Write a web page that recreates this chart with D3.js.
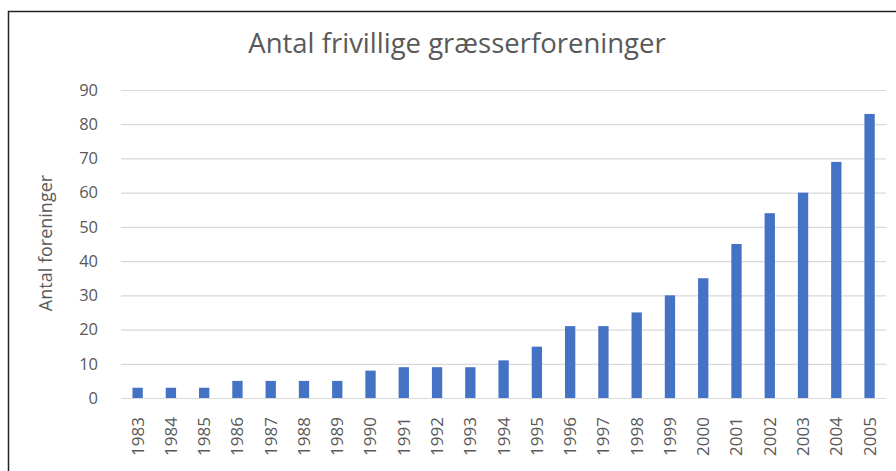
<!DOCTYPE html>
<html>
<head>
<meta charset="utf-8">
<script src="https://cdn.jsdelivr.net/npm/d3@7"></script>
<style>
  body { margin: 0; background: #fff; }
  text { font-family: "Open Sans", sans-serif; fill: #595959; }
</style>
</head>
<body>
<div id="chart"></div>
<script>
// data
let years = ["1983", "1984", "1985", "1986", "1987", "1988", "1989", "1990", "1991", "1992",
  "1993", "1994", "1995", "1996", "1997", "1998", "1999", "2000", "2001", "2002", "2003", "2004", "2005"];
let counts = [3, 3, 3, 5, 5, 5, 5, 8, 9, 9, 9, 11, 15, 21, 21, 25, 30, 35, 45, 54, 60, 69, 83];
let yTicks = [0, 10, 20, 30, 40, 50, 60, 70, 80, 90];

let chartTitle = "Antal frivillige græsserforeninger";
let yLabel = "Antal foreninger";

let svgWidth = 896;
let svgHeight = 471;

let margin = { top: 90, right: 10, bottom: 73, left: 121 };
let width = svgWidth - margin.left - margin.right;
let height = svgHeight - margin.top - margin.bottom;

let svg = d3.select("#chart")
  .append("svg")
  .attr("width", svgWidth)
  .attr("height", svgHeight);

// frame (right and bottom edges run off the picture)
svg.append("rect")
  .attr("x", 8.5)
  .attr("y", 11.5)
  .attr("width", svgWidth + 20)
  .attr("height", svgHeight + 20)
  .attr("fill", "none")
  .attr("stroke", "#222")
  .attr("stroke-width", 1.5);

let chartGroup = svg.append("g")
  .attr("transform", `translate(${margin.left}, ${margin.top})`);

let x = d3.scaleBand()
  .domain(years)
  .range([0, 33.27 * years.length])
  .paddingInner(0.69)
  .paddingOuter(0.345);

let y = d3.scaleLinear()
  .domain([0, 90])
  .range([height, 0]);

// gridlines
chartGroup.append("g")
  .selectAll("line")
  .data(yTicks)
  .join("line")
  .attr("x1", 0)
  .attr("x2", x.range()[1])
  .attr("y1", d => y(d) + 0.5)
  .attr("y2", d => y(d) + 0.5)
  .attr("stroke", "#d9d9d9")
  .attr("stroke-width", 1.2);

// y axis labels
let leftAxis = d3.axisLeft(y).tickValues(yTicks).tickSize(0).tickPadding(23);
chartGroup.append("g")
  .call(leftAxis)
  .call(g => g.select(".domain").remove())
  .selectAll("text")
  .style("font-size", "16.5px")
  .style("font-family", "'Open Sans', sans-serif")
  .attr("fill", "#595959");

// bars
chartGroup.selectAll("rect.bar")
  .data(counts)
  .join("rect")
  .attr("class", "bar")
  .attr("x", (d, i) => x(years[i]))
  .attr("y", d => y(d))
  .attr("width", x.bandwidth())
  .attr("height", d => height - y(d))
  .attr("fill", "#4472c4");

// x axis labels, rotated
let bottomAxis = d3.axisBottom(x).tickSize(0);
chartGroup.append("g")
  .attr("transform", `translate(0, ${height})`)
  .call(bottomAxis)
  .call(g => g.select(".domain").remove())
  .selectAll("text")
  .attr("transform", "rotate(-90)")
  .attr("x", -19)
  .attr("y", 0)
  .attr("dy", "0.35em")
  .style("text-anchor", "end")
  .style("font-size", "17px")
  .style("font-family", "'Open Sans', sans-serif")
  .attr("fill", "#595959");

// title
svg.append("text")
  .attr("x", 457)
  .attr("y", 53)
  .attr("text-anchor", "middle")
  .style("font-size", "27.5px")
  .text(chartTitle);

// y axis title
svg.append("text")
  .attr("transform", `translate(52, 243) rotate(-90)`)
  .attr("text-anchor", "middle")
  .style("font-size", "18px")
  .text(yLabel);
</script>
</body>
</html>
